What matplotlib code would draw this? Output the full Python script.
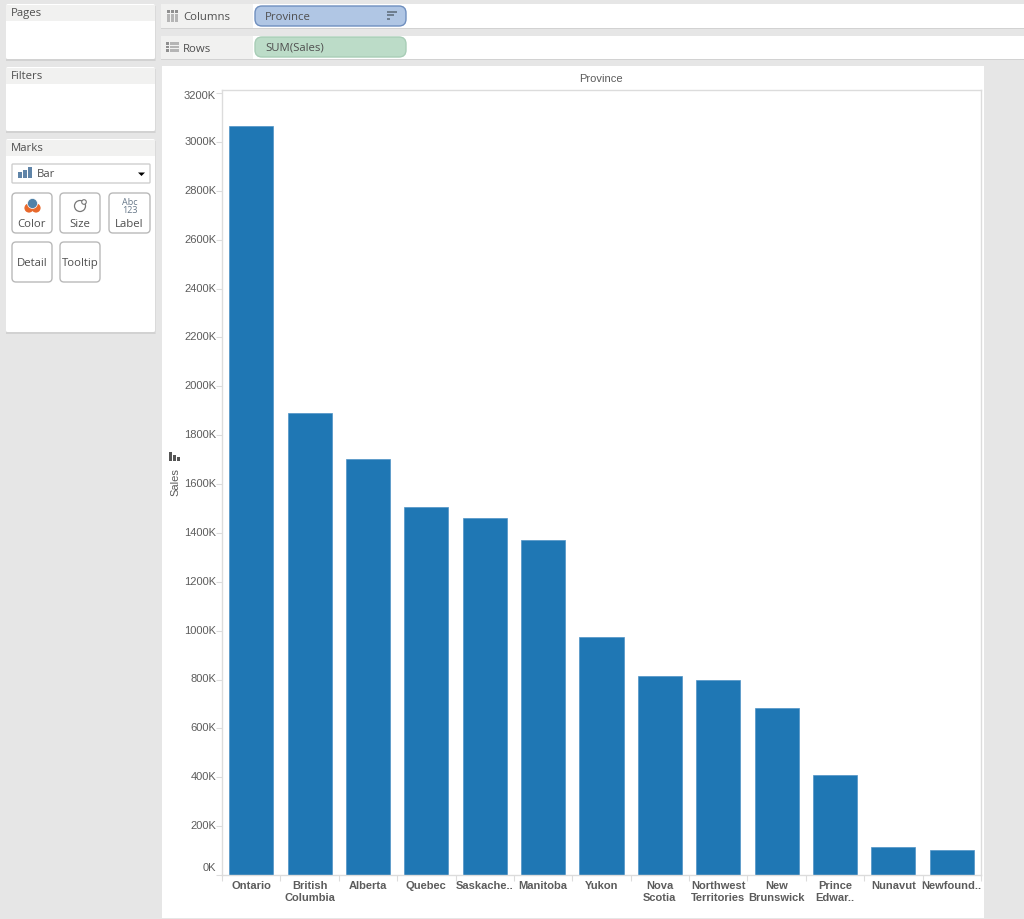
import numpy as np
import matplotlib
matplotlib.use('Agg')
import matplotlib.pyplot as plt
from matplotlib.patches import Rectangle, FancyBboxPatch, Circle, Polygon

# Data, sales in thousands
provinces = ['Ontario', 'British\nColumbia', 'Alberta', 'Quebec', 'Saskache..', 'Manitoba', 'Yukon',
             'Nova\nScotia', 'Northwest\nTerritories', 'New\nBrunswick', 'Prince\nEdwar..', 'Nunavut', 'Newfound..']
sales = [3064, 1891, 1703, 1506, 1463, 1371, 974, 815, 798, 684, 409, 115, 102]
y_ticks = list(range(0, 3400, 200))

W, H = 1024, 920
ui_font = 'Open Sans'
chart_font = 'Liberation Sans'
bg = '#e6e6e6'
header = '#f1f1f0'
text_col = '#4f4f4f'
axis_col = '#5c5c5c'

fig = plt.figure(figsize=(W/100, H/100), dpi=100, facecolor=bg)

# overlay in pixel coordinates for the application chrome
ui = fig.add_axes([0, 0, 1, 1], zorder=0)
ui.set_xlim(0, W)
ui.set_ylim(H-1, -1)
ui.axis('off')

def box(x0, y0, x1, y1, color='white', edge='none', lw=0.0, z=1):
    ui.add_patch(Rectangle((x0, y0), x1-x0, y1-y0, facecolor=color, edgecolor=edge, linewidth=lw, zorder=z))

def rbox(x0, y0, x1, y1, color='white', edge='#bdbdbd', lw=1.0, r=4, z=2):
    ui.add_patch(FancyBboxPatch((x0+r, y0+r), x1-x0-2*r, y1-y0-2*r, boxstyle=f'round,pad={r}',
                                facecolor=color, edgecolor=edge, linewidth=lw, zorder=z))

def label(x, y, s, size=8.2, ha='left', color=text_col, z=5, **kw):
    ui.text(x, y, s, fontsize=size, ha=ha, va='center', color=color, family=ui_font, zorder=z, **kw)

# side cards
for y0, y1, name in [(4, 59, 'Pages'), (67, 131, 'Filters'), (139, 332, 'Marks')]:
    box(6, y1, 155, y1+2, '#d2d2d2')
    box(155, y0+2, 156, y1+2, '#dadada')
    rbox(6, y0, 155, y1, 'white', 'none', 0, r=2)
    box(6, y0+1, 155, y0+17, header, z=3)
    label(11, y0+9, name)

# shelves
for y0, y1, name in [(4, 28, 'Columns'), (36, 59, 'Rows')]:
    box(161, y0, 1024, y1, 'white')
    box(161, y1, 1024, y1+1, '#d2d2d2')
    box(161, y0, 253, y1, header, z=2)
    label(183, (y0+y1)/2+1, name)

# columns and rows icons
for i in range(3):
    box(167+i*4, 10, 170+i*4, 12.5, '#8f8f8f', z=3)
    box(167+i*4, 13.5, 170+i*4, 22, '#b5b5b5', z=3)
for j in range(3):
    box(166, 42+j*3.6, 169, 44.6+j*3.6, '#8f8f8f', z=3)
    box(170, 42+j*3.6, 179, 44.6+j*3.6, '#b5b5b5', z=3)

rbox(255, 6, 406, 26, '#b0c6e4', '#6f8fbf', 1.0, r=7)
label(265, 16.5, 'Province')
for k, wid in enumerate([10, 7, 3]):
    box(387, 11+k*3.4, 387+wid, 13+k*3.4, '#6f7f90', z=4)
rbox(255, 37, 406, 57, '#bcdcc8', '#a8cdb6', 1.0, r=7)
label(265, 47, 'SUM(Sales)')

# marks card
rbox(12, 164, 150, 183, 'white', '#cfcfcf', 1.0, r=1)
for x, h in [(18, 6), (23, 8), (28, 11)]:
    box(x, 178-h, x+4, 178, '#5f84a8', z=3)
label(37, 173.5, 'Bar')
ui.add_patch(Polygon([[138, 172.5], [145, 172.5], [141.5, 176]], facecolor='black', zorder=4))

for x0, y0, x1, name in [(12, 193, 52, 'Color'), (60, 193, 100, 'Size'), (109, 193, 150, 'Label')]:
    rbox(x0, y0, x1, y0+40, 'white', '#b9b9b9', 1.0, r=4)
    label((x0+x1)/2, y0+30.5, name, ha='center')
for x0, y0, x1, name in [(12, 242, 52, 'Detail'), (60, 242, 100, 'Tooltip')]:
    rbox(x0, y0, x1, y0+40, 'white', '#b9b9b9', 1.0, r=4)
    label((x0+x1)/2, y0+20.5, name, ha='center')

# color, size and label icons
ui.add_patch(Circle((29, 208), 4.6, facecolor='#e8692c', zorder=4))
ui.add_patch(Circle((36, 208), 4.6, facecolor='#e8692c', zorder=4))
ui.add_patch(Circle((32.5, 203.5), 5, facecolor='#4f81a8', edgecolor='white', linewidth=0.5, zorder=5))
ui.add_patch(Circle((80, 206), 5.5, facecolor='white', edgecolor='#777777', linewidth=0.9, zorder=4))
ui.add_patch(Circle((84, 202), 2.3, facecolor='white', edgecolor='#777777', linewidth=0.8, zorder=5))
label(129.5, 201.5, 'Abc', 6.5, ha='center', color='#667788')
label(129.5, 209.5, '123', 6.5, ha='center', color='#667788')

# chart card
box(162, 66, 984, 918, 'white')
ui.text(601, 78, 'Province', fontsize=8, ha='center', va='center', color=axis_col, family=chart_font, zorder=5)
ui.text(175, 481, 'Sales', fontsize=8, rotation=90, ha='center', va='center', color=axis_col, family=chart_font, zorder=5)
for x, h in [(169, 9), (173, 6), (177, 4)]:
    box(x, 461-h, x+3, 461, '#555555', z=3)

# bar chart
ax = fig.add_axes([222/W, 1-876/H, (981-222)/W, (876-90.5)/H], zorder=2)
ax.set_facecolor('white')
x = np.arange(len(provinces))
ax.bar(x, sales, width=0.755, color='#1f77b4', edgecolor='#4f93c6', linewidth=0.5)
ax.set_xlim(-0.5, len(provinces)-0.5)
ax.set_ylim(0, 3215)

ax.set_yticks(y_ticks)
ax.set_yticklabels([])
# the top and bottom labels are pushed inwards so they stay inside the axis
for v in y_ticks:
    dy = 0.8
    if v == 0:
        dy = 5.7
    elif v == 3200:
        dy = -1.5
    ax.annotate(f'{v}K', xy=(0, v), xycoords=ax.get_yaxis_transform(), xytext=(-4.2, dy),
                textcoords='offset points', ha='right', va='center', fontsize=8, color=axis_col,
                family=chart_font, annotation_clip=False)
ax.set_xticks(x)
ax.set_xticklabels(provinces, fontsize=8, fontweight='bold', color=axis_col, family=chart_font, linespacing=1.3)
ax.set_xticks(np.arange(len(provinces)+1)-0.5, minor=True)
ax.tick_params(axis='x', which='major', length=0, pad=3.5)
ax.tick_params(axis='x', which='minor', length=4, width=0.8, color='#dcdcdc')
ax.tick_params(axis='y', length=4, width=0.8, color='#dcdcdc', pad=0)
for s in ax.spines.values():
    s.set_color('#dcdcdc')
    s.set_linewidth(1.0)

fig.savefig('out.png', dpi=100, facecolor=bg)
